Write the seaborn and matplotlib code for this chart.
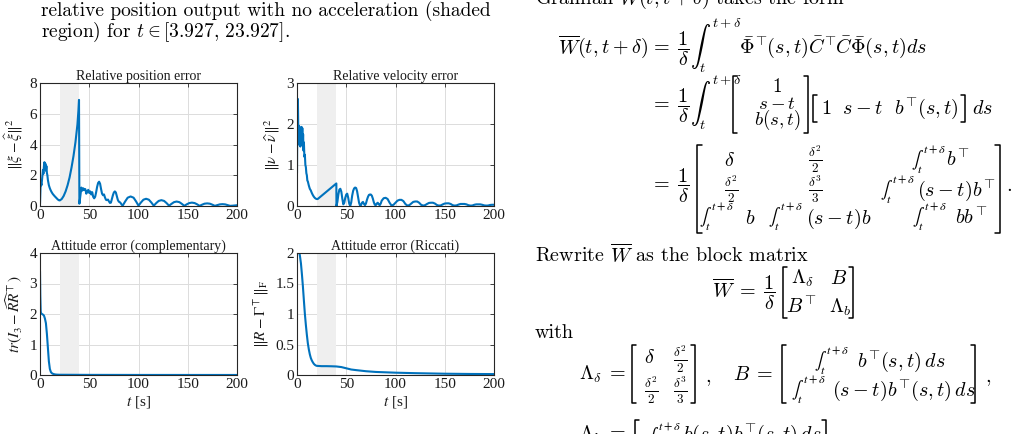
import matplotlib
matplotlib.use("Agg")
import matplotlib.pyplot as plt
import seaborn as sns
import pandas as pd
from matplotlib.lines import Line2D

# ---------------- data ----------------
t_pos = [0, 0.5, 1, 1.5, 2, 2.5, 3, 3.5, 4, 4.5, 5, 5.5, 6, 6.5, 7, 7.5, 8, 9, 10, 11, 12, 13, 14, 15,
         16, 17, 18, 19, 20, 22, 24, 26, 28, 30, 32, 34, 36, 38, 39, 39.6, 40.0,
         41, 42, 43, 44, 45, 46, 47, 48, 49, 50, 51, 52, 53, 54, 55, 56, 57, 58, 59, 60, 61, 62, 63,
         64, 65, 66, 67, 68, 69, 70, 71, 72, 73, 74, 75, 76, 77, 78, 79, 80, 81, 82, 83, 84,
         86.5, 89, 92, 95, 97.5, 100,
         102.5, 105, 107.7, 110.5, 113, 115.5,
         118, 120.5, 123.2, 126, 128.5, 131,
         133.5, 136, 138.7, 141.5, 144, 146.5,
         149, 151.5, 154.2, 157, 159.5, 162,
         164.5, 167, 169.7, 172.5, 175, 177.5,
         180, 182.5, 185.2, 188, 190.5, 193,
         195.5, 198, 200]
e_pos = [0.15, 1.2, 1.5, 1.35, 1.65, 2.0, 2.35, 2.1, 2.6, 2.85, 2.45, 2.75, 2.3, 2.6, 2.15, 2.0, 1.7, 1.35, 1.15, 1.0, 0.88, 0.78, 0.7, 0.63,
         0.56, 0.49, 0.43, 0.38, 0.36, 0.45, 0.65, 0.95, 1.35, 1.85, 2.5, 3.25, 4.15, 5.3, 6.2, 6.9, 0.15,
         0.7, 1.2, 1.0, 1.15, 1.05, 1.1, 0.8, 0.95, 1.05, 0.85, 0.95, 0.75, 0.9, 0.6, 0.5, 0.6, 0.9, 1.25, 1.5, 1.58, 1.45, 1.1, 0.8,
         0.7, 0.75, 0.55, 0.4, 0.38, 0.42, 0.3, 0.2, 0.22, 0.45, 0.7, 0.88, 0.95, 0.88, 0.65, 0.4, 0.28, 0.25, 0.18, 0.08, 0.03,
         0.3, 0.54, 0.62, 0.54, 0.3, 0.02,
         0.23, 0.41, 0.47, 0.41, 0.23, 0.02,
         0.19, 0.33, 0.38, 0.33, 0.19, 0.02,
         0.14, 0.25, 0.29, 0.25, 0.14, 0.01,
         0.11, 0.19, 0.22, 0.19, 0.11, 0.01,
         0.085, 0.15, 0.17, 0.15, 0.085, 0.01,
         0.06, 0.105, 0.12, 0.105, 0.06, 0.01,
         0.02, 0.04, 0.05]

t_vel = [0, 0.4, 0.9, 1.3, 1.8, 2.2, 2.6, 3, 3.4, 3.8, 4.2, 4.6, 5, 5.4, 5.8, 6.2, 6.6, 7, 7.5, 8, 8.5, 9, 9.5, 10,
         10.5, 11, 12, 13, 14, 15, 16, 17, 18, 19, 20, 21, 39.95, 40.05,
         41, 42, 43, 44, 45, 46, 47, 48, 49, 50, 51, 52, 53, 54, 55, 56, 57, 58, 59, 60, 61, 62, 63, 64, 65,
         66, 67, 68, 69, 70, 71, 72, 73, 74, 75, 76, 77, 78, 79, 80, 81, 82, 83, 84, 85, 86, 88, 90, 92, 94,
         96, 97, 98, 100, 102, 104, 106, 108, 110, 112, 114, 116, 118, 120, 122, 124, 126, 128, 130, 132, 134,
         136, 138, 140, 142, 144, 146, 148, 150, 152, 154, 156, 158, 160, 162, 164, 166, 168, 170, 172, 174,
         176, 178, 180, 182, 184, 186, 188, 190, 192, 194, 196, 198, 200]
e_vel = [0.8, 2.62, 2.6, 1.9, 1.5, 1.95, 1.55, 1.8, 1.45, 1.7, 1.5, 1.93, 1.6, 1.9, 1.5, 1.75, 1.35, 1.55, 1.2, 1.25, 1.0, 0.95, 0.8, 0.75,
         0.62, 0.6, 0.5, 0.42, 0.38, 0.32, 0.27, 0.23, 0.2, 0.18, 0.17, 0.17, 0.55, 0.0,
         0.1, 0.28, 0.4, 0.42, 0.35, 0.18, 0.04, 0.08, 0.2, 0.28, 0.3, 0.2, 0.06, 0.0, 0.08, 0.25, 0.37, 0.43, 0.45, 0.44, 0.36, 0.22, 0.08, 0.01, 0.02,
         0.08, 0.1, 0.05, 0.02, 0.06, 0.15, 0.22, 0.27, 0.28, 0.28, 0.25, 0.18, 0.09, 0.03, 0.02, 0.06, 0.08, 0.04, 0.02, 0.06, 0.13, 0.19, 0.2, 0.17, 0.08,
         0.01, 0.02, 0.03, 0.08, 0.13, 0.15, 0.15, 0.12, 0.05, 0.01, 0.02, 0.06, 0.1, 0.11, 0.11, 0.08, 0.03, 0.01, 0.02, 0.05, 0.075,
         0.08, 0.08, 0.06, 0.025, 0.01, 0.015, 0.04, 0.06, 0.065, 0.065, 0.05, 0.02, 0.01, 0.015, 0.035, 0.05, 0.05, 0.05, 0.04, 0.02,
         0.01, 0.012, 0.03, 0.04, 0.04, 0.04, 0.03, 0.015, 0.01, 0.012, 0.025, 0.03, 0.03]

t_comp = [0, 0.3, 0.7, 1, 2, 3, 4, 5, 6, 7, 8, 9, 10, 11, 12, 13, 15, 17, 20, 50, 100, 200]
e_comp = [3.4, 2.6, 2.1, 2.03, 2.0, 1.98, 1.95, 1.85, 1.7, 1.35, 0.9, 0.45, 0.2, 0.1, 0.06, 0.04, 0.02, 0.012, 0.008, 0.004, 0.002, 0.001]

t_ric = [0, 2, 3, 4, 5, 6, 7, 8, 9, 10, 11, 12, 13, 14, 15, 16, 17, 18, 19, 20, 25, 30, 35, 40, 45, 50,
         55, 60, 70, 80, 90, 100, 120, 150, 175, 200]
e_ric = [2.1, 2.04, 1.95, 1.83, 1.65, 1.45, 1.22, 1.0, 0.82, 0.66, 0.52, 0.42, 0.34, 0.28, 0.24, 0.21, 0.185, 0.168, 0.157, 0.15,
         0.145, 0.145, 0.143, 0.14, 0.13, 0.11, 0.09, 0.08, 0.062, 0.05, 0.044, 0.038, 0.03, 0.021, 0.017, 0.015]

x_ticks = [0, 50, 100, 150, 200]
shade = (20, 40)
titles = ["Relative position error", "Relative velocity error",
          "Attitude error (complementary)", "Attitude error (Riccati)"]
ylabels = [r"$\|\xi-\widehat{\xi}\|^2$", r"$\|\nu-\widehat{\nu}\|^2$",
           r"$tr(I_3-\widehat{RR}^{\top})$", r"$\|R-\Gamma^{\top}\|_{\mathrm{F}}$"]
y_ticks = [[0, 2, 4, 6, 8], [0, 1, 2, 3], [0, 1, 2, 3, 4], [0, 0.5, 1, 1.5, 2]]
y_ticklabels = [["0", "2", "4", "6", "8"], ["0", "1", "2", "3"], ["0", "1", "2", "3", "4"],
                ["0", "0.5", "1", "1.5", "2"]]
xlabel = r"$t$ [s]"

# ---------------- figure ----------------
W, H = 1024, 434
sns.set_theme(style="whitegrid")
plt.rcParams["font.family"] = ["Liberation Serif", "DejaVu Serif"]
plt.rcParams["axes.unicode_minus"] = True
fig = plt.figure(figsize=(W / 100, H / 100), dpi=100)
fig.patch.set_facecolor("white")


def fx(x):
    return x / W


def fy(y):
    return 1 - y / H


def add_ax(l, t, r, b):
    return fig.add_axes([fx(l), fy(b), (r - l) / W, (b - t) / H])


BLUE = "#0072BD"
boxes = [(40, 83, 237, 206), (297, 83, 494, 206), (40, 253, 237, 375), (297, 253, 494, 375)]
series = [(t_pos, e_pos), (t_vel, e_vel), (t_comp, e_comp), (t_ric, e_ric)]

for i, (box, (tt, yy)) in enumerate(zip(boxes, series)):
    ax = add_ax(*box)
    ax.set_facecolor("white")
    df = pd.DataFrame({"t": tt, "e": yy})
    ax.axvspan(shade[0], shade[1], color="#efefef", lw=0, zorder=0.6)
    sns.lineplot(data=df, x="t", y="e", ax=ax, color=BLUE, linewidth=1.5,
                 estimator=None, sort=False, zorder=3)
    ax.set_xlim(0, 200)
    ax.set_ylim(y_ticks[i][0], y_ticks[i][-1])
    ax.set_xticks(x_ticks)
    ax.set_xticklabels([str(v) for v in x_ticks])
    ax.set_yticks(y_ticks[i])
    ax.set_yticklabels(y_ticklabels[i])
    ax.grid(True, color="#dcdcdc", linewidth=0.7, zorder=0.5)
    ax.set_axisbelow(True)
    for s in ax.spines.values():
        s.set_color("#262626")
        s.set_linewidth(0.8)
        s.set_zorder(4)
    ax.tick_params(direction="in", length=3, width=0.6, top=True, right=True,
                   labelsize=11, colors="#262626", pad=2)
    for lab in ax.get_xticklabels() + ax.get_yticklabels():
        lab.set_color("#1a1a1a")
    ax.set_title(titles[i], fontsize=10, pad=2, color="#1a1a1a")
    ax.set_ylabel(ylabels[i], fontsize=11, labelpad=3, color="#1a1a1a", math_fontfamily="stix")
    if i >= 2:
        ax.set_xlabel(xlabel, fontsize=11, labelpad=2, color="#1a1a1a", math_fontfamily="stix")
    else:
        ax.set_xlabel("")

# ---------------- page text ----------------
FS = 14.5
FR = 13.5  # small matrix fractions / tight column entries


def T(x, y, s, size=FS, ha="left", va="baseline", mf="cm"):
    fig.text(fx(x), fy(y), s, fontsize=size, ha=ha, va=va, family="cmr10",
             math_fontfamily=mf, color="black")


def TI(x_int, y_int, x_rest, y_base, rest):
    """small (text-style) integral with limits, followed by the integrand"""
    T(x_int, y_int, r"$\int_t^{t+\delta}$", size=12.5, va="center", mf="stix")
    T(x_rest, y_base, rest)


def bracket(x, top, bot, side="left", w=4):
    if side == "left":
        xs = [x + w, x, x, x + w]
    else:
        xs = [x - w, x, x, x - w]
    ys = [top, top, bot, bot]
    fig.add_artist(Line2D([fx(v) for v in xs], [fy(v) for v in ys],
                          transform=fig.transFigure, color="black", lw=1.1))


TOP = r"^{\!\top}\!"

# left column text
T(41, 16, "relative position output with no acceleration (shaded", size=14)
T(41, 37, r"region) for $t\in[3.927,\,23.927]$.", size=14)

# right column
T(535, 5, r"Gramian $\overline{W}(t,t+\delta)$ takes the form")

T(648, 54, r"$\overline{W}(t,t+\delta)$", ha="right")
T(650, 54, r"$=\;\dfrac{1}{\delta}\int_t^{t+\delta}\bar{\Phi}" + TOP + r"(s,t)\bar{C}" + TOP
  + r"\bar{C}\bar{\Phi}(s,t)ds$")

T(650, 111, r"$=\;\dfrac{1}{\delta}\int_t^{t+\delta}$")
bracket(733, 76, 133, "left")
bracket(808, 76, 133, "right")
T(777, 92, r"$1$", size=FR, ha="center")
T(777, 109, r"$s-t$", size=FR, ha="center")
T(777, 125, r"$b(s,t)$", size=FR, ha="center")
bracket(813, 95, 122, "left")
bracket(965, 95, 122, "right")
T(821, 114, r"$1\ \ s-t\ \ b" + TOP + r"(s,t)$")
T(972, 114, r"$ds$")

T(650, 191, r"$=\;\dfrac{1}{\delta}$")
bracket(697, 145, 233, "left", w=5)
bracket(1000, 145, 233, "right", w=5)
T(1006, 191, ".")
T(730, 166, r"$\delta$", ha="center")
T(815, 159, r"$\frac{\delta^2}{2}$", size=FR, ha="center", va="center")
TI(911, 160, 946, 166, r"$b" + TOP + r"$")
T(731, 189, r"$\frac{\delta^2}{2}$", size=FR, ha="center", va="center")
T(815, 189, r"$\frac{\delta^3}{3}$", size=FR, ha="center", va="center")
TI(880, 190, 917, 196, r"$(s-t)b" + TOP + r"$")
TI(699, 217, 745, 224, r"$b$")
TI(768, 217, 806, 224, r"$(s-t)b$")
TI(912, 217, 955, 224, r"$bb" + TOP + r"$")

T(535, 263, r"Rewrite $\overline{W}$ as the block matrix")
T(712, 298, r"$\overline{W}\;=\;\dfrac{1}{\delta}$")
bracket(783, 267, 318, "left")
bracket(853, 267, 318, "right")
T(803, 284, r"$\Lambda_\delta$", ha="center")
T(839, 284, r"$B$", ha="center")
T(801, 313, r"$B" + TOP + r"$", ha="center")
T(840, 313, r"$\Lambda_b$", ha="center")

T(535, 338, "with")

T(579, 380, r"$\Lambda_\delta\;=$")
bracket(632, 345, 403, "left")
bracket(695, 345, 403, "right")
T(650, 363, r"$\delta$", ha="center")
T(680, 359, r"$\frac{\delta^2}{2}$", size=FR, ha="center", va="center")
T(651, 390, r"$\frac{\delta^2}{2}$", size=FR, ha="center", va="center")
T(680, 390, r"$\frac{\delta^3}{3}$", size=FR, ha="center", va="center")
T(705, 382, ",")
T(733, 380, r"$B\;=$")
bracket(782, 345, 403, "left")
bracket(975, 345, 403, "right")
TI(814, 361, 857, 367, r"$b" + TOP + r"(s,t)\,ds$")
TI(791, 390, 832, 396, r"$(s-t)b" + TOP + r"(s,t)\,ds$")
T(985, 382, ",")

T(579, 440, r"$\Lambda_b\;=$")
bracket(635, 420, 460, "left")
bracket(826, 420, 460, "right")
TI(646, 437, 683, 440, r"$b(s,t)b" + TOP + r"(s,t)\,ds$")
T(834, 442, ",")

fig.savefig("out.png", dpi=100, facecolor="white")
